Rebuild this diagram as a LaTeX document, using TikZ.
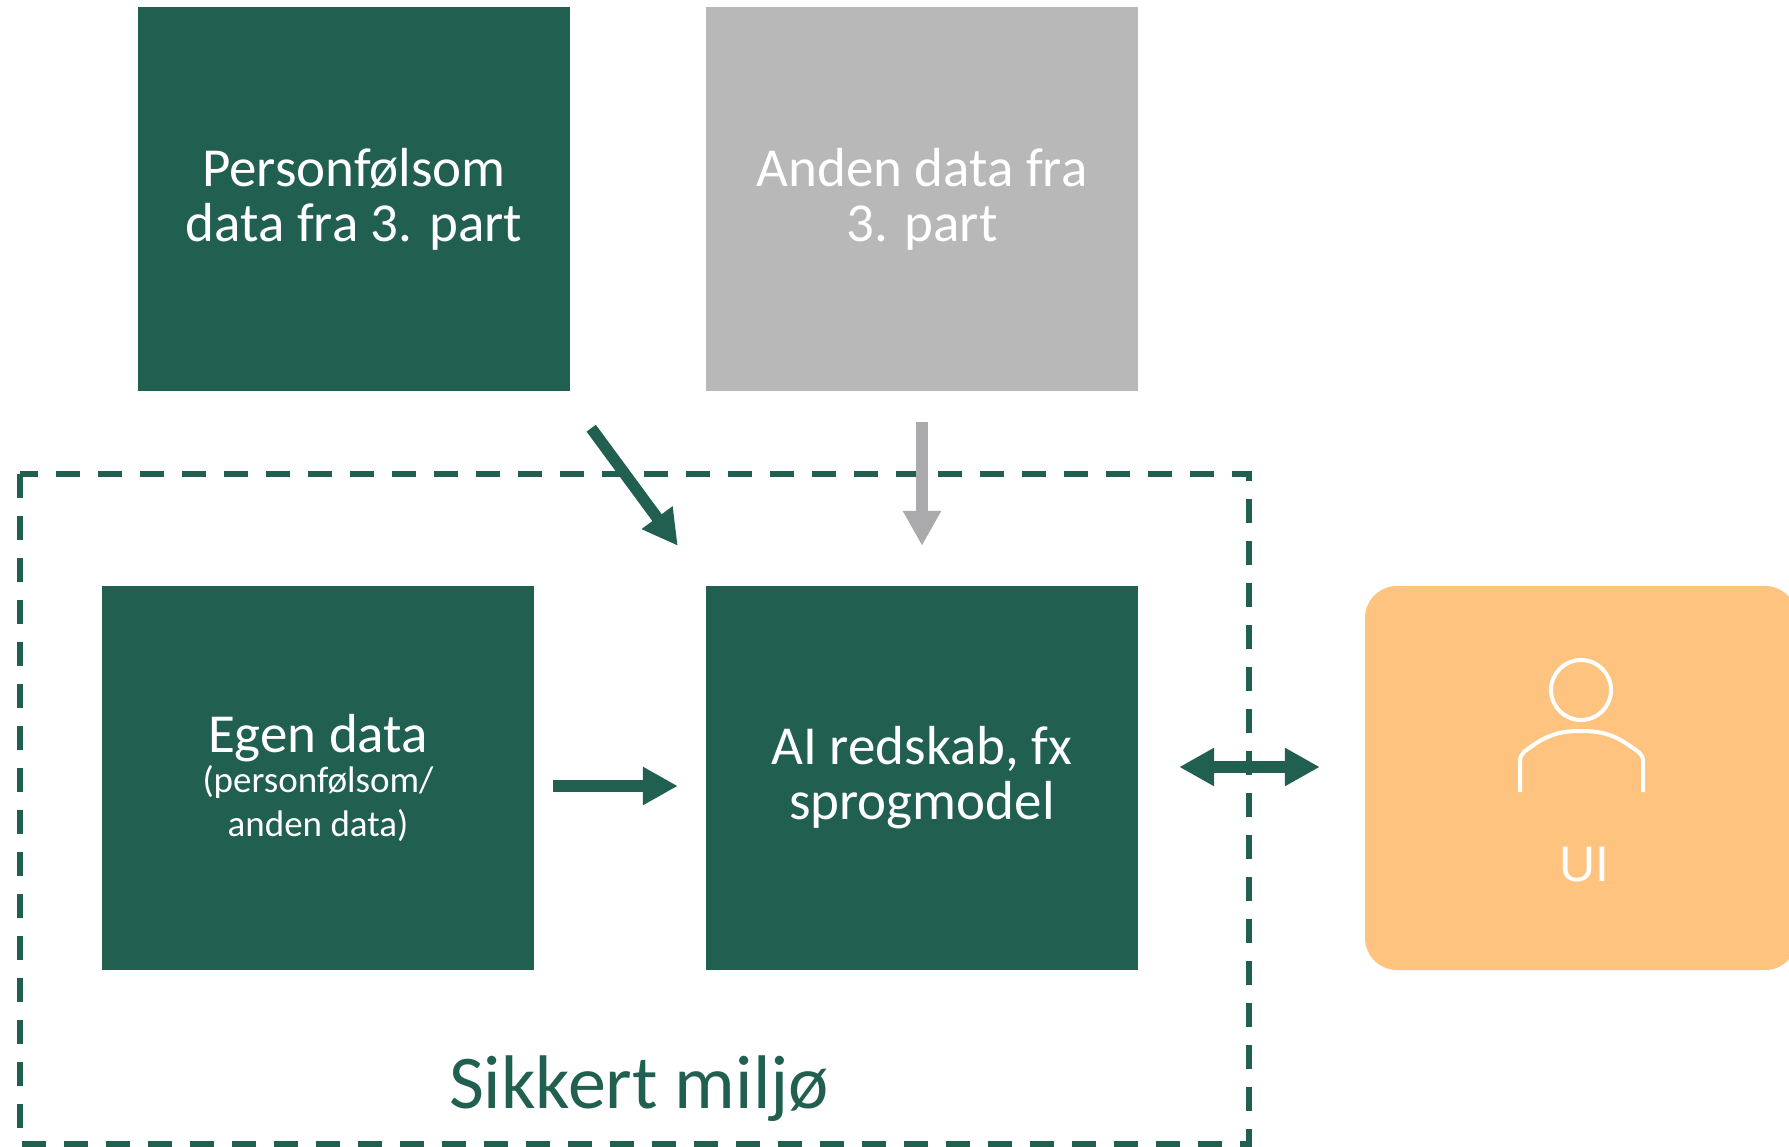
\documentclass[tikz,border=0pt]{standalone}
\usepackage{fontspec}
\setmainfont{Carlito}
\newfontfamily\uifont{Liberation Sans}
\usetikzlibrary{calc, arrows.meta}
\definecolor{moerkgroen}{RGB}{33,96,80}
\definecolor{lysgraa}{RGB}{183,184,183}
\definecolor{pilgraa}{RGB}{170,170,172}
\definecolor{uiorange}{RGB}{254,196,127}
\tikzset{
	boks/.style={minimum width=432pt,minimum height=384pt,inner sep=0pt,text=white,align=center,font=\fontsize{55}{55}\selectfont},
	pil/.style={line width=11.5pt,-{Triangle[length=35pt,width=36pt]}},
}
\begin{document}
\begin{tikzpicture}[x=1pt,y=-1pt]
		\useasboundingbox (0,0) rectangle (1789,1147);
		\clip (0,0) rectangle (1789,1147);
		\node[boks,fill=moerkgroen](tredjepart)at(354,199){Personfølsom\\data fra 3. part}; %øverst venstre
		\node[boks,fill=lysgraa](anden)at(922,199){Anden data fra\\3. part}; %øverst højre
		\node[boks,fill=moerkgroen](egen)at(318,778){Egen data\\[-15pt]{\fontsize{37}{44}\selectfont (personfølsom/}\\[-11pt]{\fontsize{37}{44}\selectfont anden data)}};
		\node[boks,fill=moerkgroen](ai)at(922,778){AI redskab, fx\\sprogmodel};
		\node[boks,fill=uiorange,rounded corners=32pt](ui)at(1581,778){};
		\draw[moerkgroen,line width=6pt,dash pattern=on 24pt off 18pt] (19.7,474) rectangle (1249,1144); %sikkert miljø
		\node[text=moerkgroen,font=\fontsize{76}{76}\selectfont,anchor=base](miljo)at(639,1108){Sikkert miljø};
		\draw[pil,moerkgroen] ($(tredjepart.south east)+(21,37)$)--($(ai.north west)+(-28,-40)$);
		\draw[pil,pilgraa] ($(anden.south)+(0,31)$)--($(ai.north)+(0,-40)$);
		\draw[pil,moerkgroen] ($(egen.east)+(19,8)$)--($(ai.west)+(-28,8)$);
		\draw[pil,moerkgroen,{Triangle[length=35pt,width=36pt]}-{Triangle[length=35pt,width=36pt]}] ($(ai.east)+(41,-11)$)--($(ui.west)+(-45,-11)$);
		\draw[white,line width=4pt] (1581,690) circle (30pt); %hoved
		\draw[white,line width=4pt] (1520,792)--(1520,761) to[out=90,in=215] (1532,746) to[out=35,in=180] (1581,731) to[out=0,in=145] (1630,746) to[out=-35,in=90] (1643,761)--(1643,792); %skuldre
		\node[text=white,font=\uifont\fontsize{50}{50}\selectfont,anchor=base](uitekst)at(1584,881){UI};
	\end{tikzpicture}
\end{document}
